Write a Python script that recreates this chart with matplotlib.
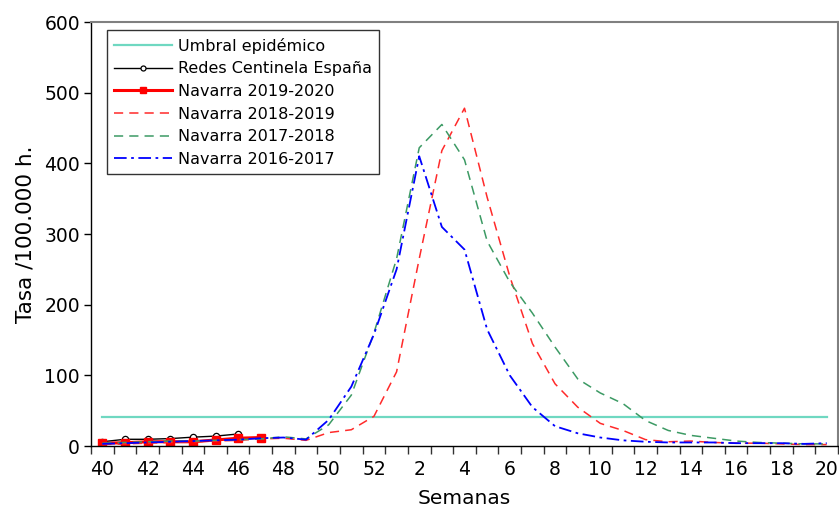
import matplotlib
matplotlib.use("Agg")
import matplotlib.pyplot as plt
import numpy as np

weeks = [40, 41, 42, 43, 44, 45, 46, 47, 48, 49, 50, 51, 52,
         1, 2, 3, 4, 5, 6, 7, 8, 9, 10, 11, 12, 13, 14, 15, 16, 17, 18, 19, 20]
tick_labels = ["40", "42", "44", "46", "48", "50", "52", "2", "4", "6", "8",
               "10", "12", "14", "16", "18", "20"]

umbral = [41.5] * 33
redes = [6, 9.5, 9.5, 10.5, 12.5, 14, 17]
nav_1920 = [3.8, 4.7, 6, 6, 6, 8.5, 11, 12]
nav_1819 = [2, 3, 4, 5, 6, 7, 8, 10, 11, 8, 19, 23, 42,
            105, 265, 418, 478, 352, 240, 145, 88, 55, 32, 22, 9, 6, 7, 5, 4, 4, 3, 2, 2]
nav_1718 = [4, 5, 6, 7, 7, 8, 9, 10, 13, 10, 30, 72, 160,
            265, 422, 455, 405, 290, 232, 188, 140, 95, 75, 60, 36, 22, 15, 11, 7, 5, 4, 3, 3]
nav_1617 = [3, 4, 5, 6, 7, 8, 9, 11, 12, 9, 37, 84, 158,
            250, 410, 310, 278, 165, 100, 55, 28, 18, 12, 8, 6, 5, 5, 5, 4, 4, 4, 3, 4]

x = np.arange(len(weeks))

fig = plt.figure(figsize=(8.39, 5.13), dpi=100)
ax = fig.add_axes([91 / 839, 67 / 513, (838 - 91) / 839, (446 - 22) / 513])

ax.plot(x, umbral, color="#6fd8c1", lw=1.6, label="Umbral epidémico")
ax.plot(x[:len(redes)], redes, color="black", lw=1.0, marker="o", ms=4.5,
        mfc="white", mec="black", mew=0.9, label="Redes Centinela España")
ax.plot(x[:len(nav_1920)], nav_1920, color="#ff0000", lw=2.2, marker="s", ms=5.5,
        label="Navarra 2019-2020")
ax.plot(x, nav_1819, color="#ff2a2a", lw=1.1, dashes=(6, 4), label="Navarra 2018-2019")
ax.plot(x, nav_1718, color="#3c9a64", lw=1.1, dashes=(6, 4), label="Navarra 2017-2018")
ax.plot(x, nav_1617, color="#0000ff", lw=1.3, dashes=(7, 2.5, 1.5, 2.5), label="Navarra 2016-2017")

ax.set_xlim(-0.5, 32.5)
ax.set_ylim(0, 600)
ax.set_yticks(range(0, 601, 100))
ax.set_xticks(np.arange(0, 33, 2))
ax.set_xticklabels(tick_labels)
ax.set_xticks(np.arange(-0.5, 33, 1), minor=True)
ax.tick_params(axis="x", which="major", length=0, labelsize=13.5, pad=10)
ax.tick_params(axis="x", which="minor", length=6, width=1, direction="out", color="#333333")
ax.tick_params(axis="y", length=5, width=1, direction="out", labelsize=13.5, pad=3)

for s in ["left", "bottom"]:
    ax.spines[s].set_color("black")
    ax.spines[s].set_linewidth(1.0)
for s in ["top", "right"]:
    ax.spines[s].set_color("#808080")
    ax.spines[s].set_linewidth(1.5)

ax.set_xlabel("Semanas", fontsize=14.5, labelpad=7)
ax.set_ylabel("Tasa /100.000 h.", fontsize=15.5, labelpad=6)

leg = ax.legend(loc="upper left", bbox_to_anchor=(16 / 747, 0.98), fontsize=11.5,
                frameon=True, fancybox=False, edgecolor="black", handlelength=3.6,
                handletextpad=0.4, labelspacing=0.48, borderpad=0.45, borderaxespad=0,
                markerscale=0.8)
leg.get_frame().set_linewidth(1.0)

fig.savefig("out.png", dpi=100)
